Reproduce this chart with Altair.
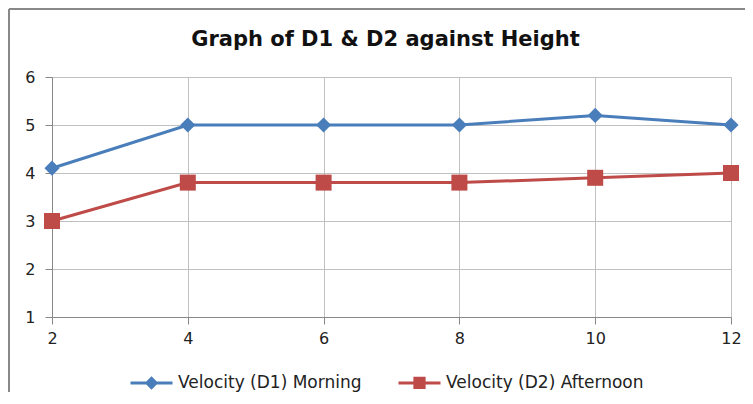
import altair as alt
import pandas as pd

heights = [2, 4, 6, 8, 10, 12]
d1_morning = [4.1, 5.0, 5.0, 5.0, 5.2, 5.0]
d2_afternoon = [3.0, 3.8, 3.8, 3.8, 3.9, 4.0]
series_names = ["Velocity (D1) Morning", "Velocity (D2) Afternoon"]
colors = ["#4A7EBB", "#BE4B48"]
title_text = "Graph of D1 & D2 against Height"

rows = []
for h, v in zip(heights, d1_morning):
    rows.append({"Height": h, "Velocity": v, "Series": series_names[0]})
for h, v in zip(heights, d2_afternoon):
    rows.append({"Height": h, "Velocity": v, "Series": series_names[1]})
df = pd.DataFrame(rows)

FONT = "DejaVu Sans"

x_enc = alt.X("Height:Q", scale=alt.Scale(domain=[2, 12], nice=False),
              axis=alt.Axis(values=[2, 4, 6, 8, 10, 12], title=None, grid=True,
                            labelFontSize=16, labelColor="#222", labelPadding=6,
                            labelFlush=False,
                            tickSize=7, tickColor="#888", domainColor="#888",
                            gridColor="#c0c0c0", labelFont=FONT))
y_enc = alt.Y("Velocity:Q", scale=alt.Scale(domain=[1, 6], nice=False),
              axis=alt.Axis(values=[1, 2, 3, 4, 5, 6], title=None, grid=True,
                            labelFontSize=16, labelColor="#222", labelPadding=10,
                            labelFlush=False,
                            tickSize=7, tickColor="#888", domainColor="#888",
                            gridColor="#c0c0c0", labelFont=FONT))


def cscale():
    return alt.Scale(domain=series_names, range=colors)


legend_paths = ["M-1,0H1M0,-0.22L0.22,0L0,0.22L-0.22,0Z",
                "M-1,0H1M-0.22,-0.22H0.22V0.22H-0.22Z"]

legend = alt.Legend(
    title=None, orient="none", direction="horizontal",
    legendX=77, legendY=283,
    symbolSize=1764, symbolStrokeWidth=3, symbolOpacity=1,
    labelFontSize=17, labelFont=FONT, labelColor="#222",
    labelOffset=4, columnPadding=30, labelLimit=400,
)

lines = alt.Chart(df).mark_line(strokeWidth=3).encode(
    x=x_enc, y=y_enc,
    color=alt.Color("Series:N", scale=cscale(), legend=None),
)

points = alt.Chart(df).mark_point(filled=True, opacity=1, strokeWidth=0).encode(
    x=x_enc, y=y_enc,
    color=alt.Color("Series:N", scale=cscale(), legend=None),
    shape=alt.Shape("Series:N", scale=alt.Scale(domain=series_names, range=["diamond", "square"]), legend=None),
    size=alt.Size("Series:N", scale=alt.Scale(domain=series_names, range=[230, 256]), legend=None),
)

legend_layer = alt.Chart(df).mark_point(filled=True, opacity=0, strokeWidth=3).encode(
    x=x_enc, y=y_enc,
    color=alt.Color("Series:N", scale=cscale(), legend=legend),
    stroke=alt.Stroke("Series:N", scale=cscale(), legend=legend),
    shape=alt.Shape("Series:N", scale=alt.Scale(domain=series_names, range=legend_paths), legend=legend),
)

border_left = alt.Chart(df).mark_rule(color="#888", strokeWidth=2).encode(
    x=alt.value(-43), y=alt.value(-68), y2=alt.value(330))
border_top = alt.Chart(df).mark_rule(color="#888", strokeWidth=2).encode(
    x=alt.value(-43), x2=alt.value(700), y=alt.value(-68))

chart = alt.layer(border_left, border_top, lines, points, legend_layer).resolve_scale(
    color="independent", shape="independent", size="independent", stroke="independent"
).properties(
    width=679, height=240,
    title=alt.TitleParams(title_text, fontSize=21, font=FONT, fontWeight="bold",
                          color="#111", anchor="middle", dx=-6, offset=-42),
    autosize=alt.AutoSizeParams(type="none"),
    padding={"left": 44, "top": 69, "right": 14, "bottom": 75},
).configure_view(stroke=None).configure(background="white")

chart.save("out.html", embed_options={"renderer": "svg", "actions": False})
